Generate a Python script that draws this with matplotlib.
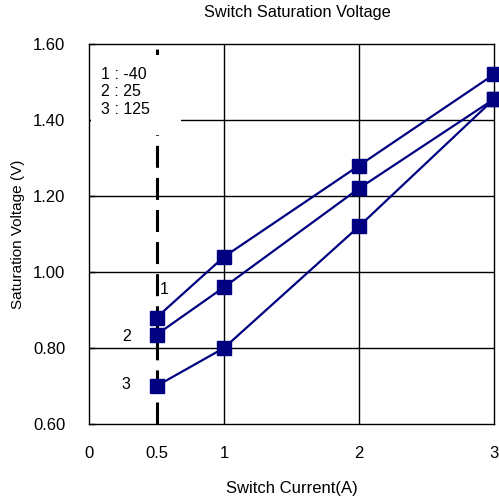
import matplotlib
matplotlib.use("Agg")
import matplotlib.pyplot as plt
from matplotlib.patches import Rectangle

plt.rcParams['font.family'] = ['Liberation Sans', 'DejaVu Sans']

# switch current (A)
current = [0.5, 1, 2, 3]
# saturation voltage (V) per temperature
v_m40 = [0.88, 1.04, 1.28, 1.52]
v_25 = [0.835, 0.96, 1.22, 1.455]
v_125 = [0.70, 0.80, 1.12, 1.455]

x_ticks = [0, 0.5, 1, 2, 3]
x_ticklabels = ['0', '0.5', '1', '2', '3']
y_ticks = [0.6, 0.8, 1.0, 1.2, 1.4, 1.6]

fig = plt.figure(figsize=(4.99, 4.99), dpi=100)
ax = fig.add_axes([89/499, 1 - 424/499, (494-89)/499, (424-44)/499])

navy = '#000080'
for v in [v_m40, v_25, v_125]:
    ax.plot(current, v, color=navy, lw=1.6, marker='s', markersize=10,
            markeredgecolor=navy, clip_on=False, zorder=5)

# grid
for gx in [1, 2]:
    ax.axvline(gx, color='black', lw=1, zorder=1)
for gy in [0.8, 1.0, 1.2, 1.4]:
    ax.axhline(gy, color='black', lw=1, zorder=1)

# dashed line at 0.5 A
ax.axvline(0.5, color='black', lw=2.2, dashes=(7.2, 3.3), zorder=2)

# white legend box, no border
ax.add_patch(Rectangle((0.006, 0.76), 0.22, 0.21, transform=ax.transAxes,
                       facecolor='white', edgecolor='none', zorder=3))
ax.text(0.03, 0.94, '1 : -40\n2 : 25\n3 : 125', transform=ax.transAxes,
        fontsize=11.5, va='top', ha='left', linespacing=1.2, zorder=4)

# curve labels
ax.text(0.56, 0.955, '1', fontsize=11.5, ha='center', va='center')
ax.text(0.28, 0.83, '2', fontsize=11.5, ha='center', va='center')
ax.text(0.27, 0.705, '3', fontsize=11.5, ha='center', va='center')

ax.set_xlim(0, 3)
ax.set_ylim(0.6, 1.6)
ax.set_xticks(x_ticks)
ax.set_xticklabels(x_ticklabels)
ax.set_yticks(y_ticks)
ax.set_yticklabels(['%.2f' % y for y in y_ticks])
ax.tick_params(axis='x', length=0, labelsize=12, pad=16)
ax.tick_params(axis='y', direction='in', length=4, width=1, labelsize=12, pad=17)
for s in ax.spines.values():
    s.set_linewidth(1)

ax.set_xlabel('Switch Current(A)', fontsize=12, va='center')
ax.xaxis.set_label_coords(0.5, (424 - 488) / 380)
ax.set_ylabel('Saturation Voltage (V)', fontsize=11, va='center')
ax.yaxis.set_label_coords((18 - 89) / 405, 0.5)
fig.text(297/499, 1 - 12/499, 'Switch Saturation Voltage', fontsize=11.8,
         ha='center', va='center')

fig.savefig('out.png', dpi=100)
